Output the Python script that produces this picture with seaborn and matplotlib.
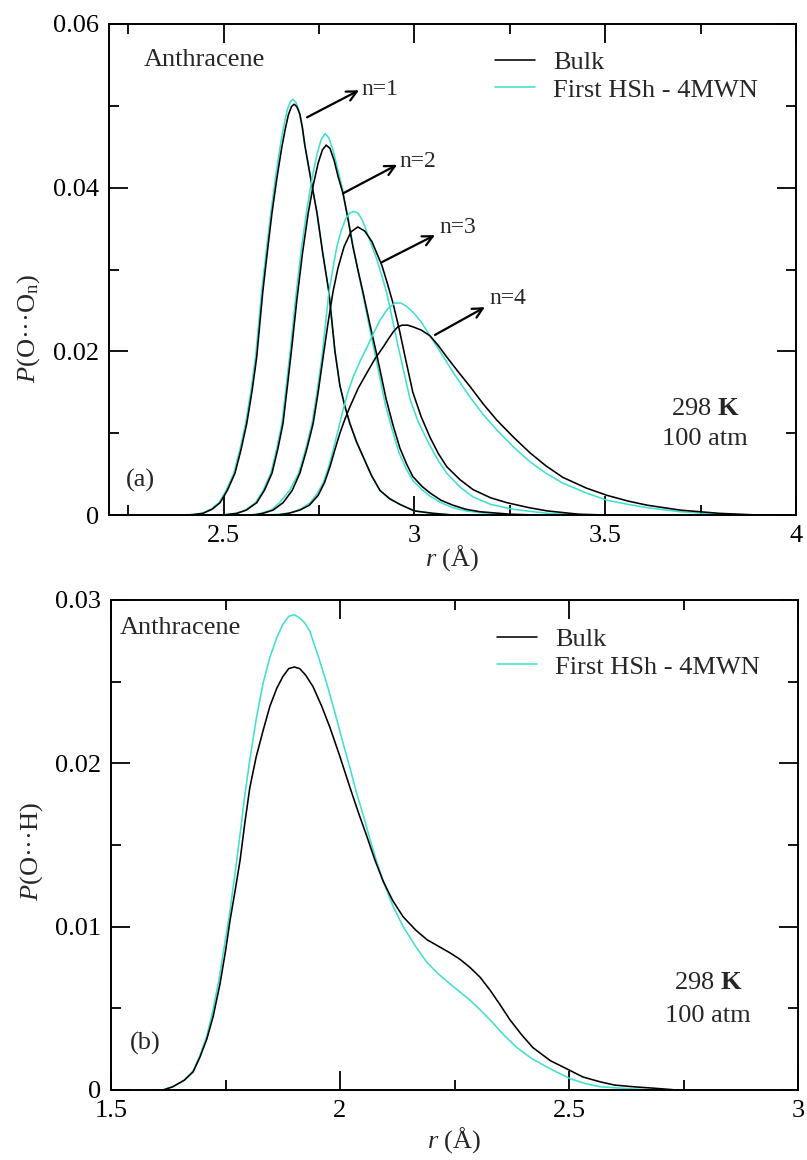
import matplotlib
matplotlib.use("Agg")
import matplotlib.pyplot as plt
import seaborn as sns
import pandas as pd
from matplotlib.lines import Line2D

# ---------------- data: panel (a) P(O...On) ----------------
r_a1_bulk = [2.40, 2.42, 2.446, 2.470, 2.491, 2.510, 2.530, 2.546, 2.561, 2.575, 2.587, 2.603, 2.615, 2.627, 2.640,
             2.653, 2.662, 2.670, 2.678, 2.685, 2.692, 2.700, 2.707, 2.713, 2.729, 2.745, 2.760, 2.776, 2.792,
             2.805, 2.818, 2.831, 2.848, 2.866, 2.888, 2.910, 2.935, 2.962, 3.00, 3.05, 3.10]
p_a1_bulk = [0, 0.00005, 0.0002, 0.0007, 0.0015, 0.0030, 0.0051, 0.0080, 0.0112, 0.0152, 0.0193, 0.0273, 0.0322,
             0.0369, 0.0412, 0.0450, 0.0472, 0.0489, 0.0499, 0.0502, 0.0499, 0.0490, 0.0473, 0.0452, 0.0410, 0.0369,
             0.0320, 0.0273, 0.0200, 0.0158, 0.0133, 0.0112, 0.0090, 0.0071, 0.0048, 0.0030, 0.0020, 0.0013, 0.0005,
             0.0002, 0.0]
r_a1_hsh = [2.40, 2.42, 2.443, 2.467, 2.488, 2.507, 2.527, 2.543, 2.558, 2.572, 2.584, 2.600, 2.612, 2.624, 2.637,
            2.650, 2.659, 2.667, 2.675, 2.682, 2.690, 2.698, 2.705, 2.712, 2.729, 2.745, 2.760, 2.776, 2.792,
            2.805, 2.818, 2.831, 2.848, 2.866, 2.888, 2.910, 2.935, 2.962, 3.00, 3.05, 3.10]
p_a1_hsh = [0, 0.00005, 0.0002, 0.0007, 0.0015, 0.0030, 0.0051, 0.0080, 0.0112, 0.0152, 0.0193, 0.0273, 0.0322,
            0.0369, 0.0415, 0.0455, 0.0478, 0.0495, 0.0505, 0.0508, 0.0504, 0.0494, 0.0476, 0.0455, 0.0410, 0.0369,
            0.0320, 0.0273, 0.0200, 0.0158, 0.0133, 0.0112, 0.0090, 0.0071, 0.0048, 0.0030, 0.0020, 0.0013, 0.0005,
            0.0002, 0.0]

r_a2_bulk = [2.50, 2.535, 2.560, 2.587, 2.607, 2.627, 2.642, 2.656, 2.668, 2.679, 2.692, 2.707, 2.722, 2.736, 2.748,
             2.759, 2.769, 2.779, 2.790, 2.800, 2.813, 2.826, 2.839, 2.852, 2.866, 2.884, 2.902, 2.926, 2.944, 2.962,
             2.980, 2.996, 3.020, 3.041, 3.070, 3.101, 3.135, 3.172, 3.25, 3.32]
p_a2_bulk = [0, 0.0002, 0.0006, 0.0015, 0.0030, 0.0051, 0.0080, 0.0112, 0.0160, 0.0205, 0.0262, 0.0320, 0.0369,
             0.0405, 0.0430, 0.0446, 0.0452, 0.0448, 0.0433, 0.0414, 0.0393, 0.0362, 0.0328, 0.0300, 0.0271, 0.0232,
             0.0195, 0.0142, 0.0110, 0.0082, 0.0062, 0.0047, 0.0035, 0.0027, 0.0018, 0.0012, 0.0007, 0.0004, 0.0001, 0.0]
r_a2_hsh = [2.50, 2.532, 2.557, 2.584, 2.604, 2.624, 2.639, 2.653, 2.665, 2.676, 2.689, 2.704, 2.719, 2.733, 2.745,
            2.756, 2.766, 2.776, 2.787, 2.798, 2.812, 2.826, 2.839, 2.852, 2.866, 2.883, 2.900, 2.924, 2.942, 2.960,
            2.978, 2.996, 3.020, 3.041, 3.070, 3.101, 3.135, 3.172, 3.25]
p_a2_hsh = [0, 0.0002, 0.0006, 0.0015, 0.0030, 0.0051, 0.0080, 0.0112, 0.0160, 0.0205, 0.0265, 0.0325, 0.0375,
            0.0414, 0.0441, 0.0459, 0.0466, 0.0461, 0.0446, 0.0425, 0.0398, 0.0364, 0.0330, 0.0299, 0.0268, 0.0228,
            0.0190, 0.0135, 0.0104, 0.0076, 0.0057, 0.0042, 0.0031, 0.0023, 0.0015, 0.0009, 0.0005, 0.0003, 0.0]

r_a3_bulk = [2.58, 2.603, 2.630, 2.656, 2.680, 2.700, 2.718, 2.735, 2.748, 2.761, 2.774, 2.787, 2.800, 2.816, 2.834,
             2.852, 2.870, 2.889, 2.915, 2.930, 2.944, 2.960, 2.975, 2.996, 3.018, 3.041, 3.063, 3.085, 3.12, 3.154,
             3.20, 3.243, 3.30, 3.348, 3.43, 3.50]
p_a3_bulk = [0, 0.0002, 0.0006, 0.0015, 0.0030, 0.0051, 0.0080, 0.0112, 0.0150, 0.0193, 0.0235, 0.0273, 0.0302,
             0.0328, 0.0346, 0.0352, 0.0347, 0.0334, 0.0305, 0.0282, 0.0259, 0.0228, 0.0195, 0.0150, 0.0120, 0.0095,
             0.0075, 0.0059, 0.0043, 0.0031, 0.0021, 0.0015, 0.0009, 0.0005, 0.0001, 0.0]
r_a3_hsh = [2.57, 2.597, 2.625, 2.647, 2.673, 2.697, 2.715, 2.732, 2.745, 2.758, 2.767, 2.776, 2.787, 2.797, 2.808,
            2.820, 2.831, 2.842, 2.852, 2.862, 2.871, 2.880, 2.902, 2.915, 2.928, 2.943, 2.958, 2.974, 2.989, 3.010,
            3.033, 3.058, 3.085, 3.12, 3.154, 3.20, 3.258, 3.35, 3.45]
p_a3_hsh = [0, 0.0002, 0.0006, 0.0015, 0.0030, 0.0051, 0.0080, 0.0112, 0.0150, 0.0193, 0.0232, 0.0271, 0.0302,
            0.0328, 0.0347, 0.0362, 0.0369, 0.0371, 0.0369, 0.0362, 0.0352, 0.0340, 0.0312, 0.0292, 0.0271, 0.0238,
            0.0205, 0.0172, 0.0141, 0.0114, 0.0092, 0.0070, 0.0051, 0.0034, 0.0022, 0.0013, 0.0007, 0.0002, 0.0]

r_a4_bulk = [2.64, 2.67, 2.700, 2.725, 2.748, 2.765, 2.779, 2.792, 2.805, 2.818, 2.831, 2.853, 2.876, 2.897, 2.918,
             2.932, 2.945, 2.957, 2.968, 2.982, 2.996, 3.018, 3.041, 3.063, 3.085, 3.115, 3.146, 3.18, 3.216, 3.26,
             3.303, 3.345, 3.389, 3.45, 3.505, 3.56, 3.610, 3.696, 3.80, 3.90, 3.97]
p_a4_bulk = [0, 0.0002, 0.0006, 0.0012, 0.0024, 0.0040, 0.0059, 0.0080, 0.0100, 0.0117, 0.0132, 0.0155, 0.0174,
             0.0191, 0.0205, 0.0215, 0.0224, 0.0230, 0.0232, 0.0232, 0.0230, 0.0226, 0.0219, 0.0207, 0.0193, 0.0175,
             0.0157, 0.0136, 0.0116, 0.0095, 0.0076, 0.0060, 0.0046, 0.0033, 0.0024, 0.0017, 0.0012, 0.0006, 0.0002,
             0.0, 0.0]
r_a4_hsh = [2.60, 2.65, 2.680, 2.705, 2.727, 2.745, 2.761, 2.775, 2.787, 2.800, 2.813, 2.826, 2.840, 2.858, 2.876,
            2.893, 2.910, 2.930, 2.949, 2.965, 2.980, 2.996, 3.018, 3.041, 3.067, 3.105, 3.146, 3.18, 3.216, 3.26,
            3.303, 3.345, 3.389, 3.45, 3.505, 3.56, 3.610, 3.696, 3.80, 3.88]
p_a4_hsh = [0, 0.0001, 0.0003, 0.0008, 0.0015, 0.0026, 0.0039, 0.0058, 0.0079, 0.0103, 0.0128, 0.0150, 0.0169,
            0.0188, 0.0205, 0.0222, 0.0238, 0.0252, 0.0259, 0.0259, 0.0255, 0.0248, 0.0236, 0.0219, 0.0200, 0.0172,
            0.0144, 0.0123, 0.0104, 0.0083, 0.0065, 0.0051, 0.0039, 0.0027, 0.0018, 0.0013, 0.0009, 0.0004, 0.0001, 0.0]

# ---------------- data: panel (b) P(O...H) ----------------
r_b_bulk = [1.600, 1.614, 1.635, 1.660, 1.679, 1.694, 1.709, 1.723, 1.738, 1.750, 1.760, 1.771, 1.782, 1.792, 1.803,
            1.817, 1.832, 1.847, 1.862, 1.875, 1.888, 1.900, 1.912, 1.925, 1.941, 1.960, 1.978, 2.000, 2.022, 2.040,
            2.059, 2.076, 2.094, 2.115, 2.138, 2.165, 2.190, 2.215, 2.240, 2.262, 2.284, 2.306, 2.328, 2.350, 2.371,
            2.396, 2.421, 2.440, 2.459, 2.502, 2.530, 2.568, 2.600, 2.640, 2.690, 2.736]
p_b_bulk = [0, 0, 0.0002, 0.0006, 0.0011, 0.0020, 0.0031, 0.0045, 0.0065, 0.0085, 0.0104, 0.0122, 0.0141, 0.0163,
            0.0185, 0.0204, 0.0220, 0.0235, 0.0246, 0.0253, 0.0258, 0.0259, 0.0258, 0.0254, 0.0247, 0.0235, 0.0222,
            0.0204, 0.0185, 0.0170, 0.0155, 0.0141, 0.0128, 0.0116, 0.0106, 0.0098, 0.0092, 0.0088, 0.0084, 0.0080,
            0.0075, 0.0069, 0.0061, 0.0052, 0.0043, 0.0034, 0.0026, 0.0022, 0.0018, 0.0012, 0.0008, 0.0005, 0.0003,
            0.0002, 0.0001, 0.0]
r_b_hsh = [1.600, 1.612, 1.635, 1.660, 1.680, 1.694, 1.709, 1.722, 1.736, 1.748, 1.760, 1.771, 1.782, 1.792, 1.803,
           1.817, 1.832, 1.847, 1.862, 1.875, 1.888, 1.900, 1.912, 1.923, 1.934, 1.952, 1.971, 1.989, 2.007, 2.022,
           2.036, 2.051, 2.066, 2.080, 2.094, 2.115, 2.138, 2.165, 2.190, 2.215, 2.240, 2.262, 2.284, 2.310, 2.334,
           2.360, 2.386, 2.420, 2.459, 2.502, 2.535, 2.568, 2.620, 2.683]
p_b_hsh = [0, 0, 0.0002, 0.0006, 0.0012, 0.0021, 0.0033, 0.0048, 0.0068, 0.0089, 0.0110, 0.0133, 0.0157, 0.0180,
           0.0202, 0.0227, 0.0249, 0.0265, 0.0277, 0.0285, 0.0290, 0.0291, 0.0289, 0.0286, 0.0281, 0.0266, 0.0249,
           0.0231, 0.0212, 0.0197, 0.0182, 0.0168, 0.0153, 0.0140, 0.0128, 0.0113, 0.0100, 0.0088, 0.0078, 0.0071,
           0.0065, 0.0060, 0.0055, 0.0048, 0.0041, 0.0033, 0.0026, 0.0019, 0.0013, 0.0007, 0.0004, 0.0002, 0.0001, 0.0]

series_names = ["Bulk", "First HSh - 4MWN"]

# ticks
xticks_a = [2.5, 3.0, 3.5, 4.0]
xticklabels_a = ["2.5", "3", "3.5", "4"]
xminor_a = [2.25, 2.75, 3.25, 3.75]
yticks_a = [0, 0.02, 0.04, 0.06]
yticklabels_a = ["0", "0.02", "0.04", "0.06"]
yminor_a = [0.01, 0.03, 0.05]

xticks_b = [1.5, 2.0, 2.5, 3.0]
xticklabels_b = ["1.5", "2", "2.5", "3"]
xminor_b = [1.75, 2.25, 2.75]
yticks_b = [0, 0.01, 0.02, 0.03]
yticklabels_b = ["0", "0.01", "0.02", "0.03"]
yminor_b = [0.005, 0.015, 0.025]

# ---------------- style ----------------
sns.set_style("ticks")
plt.rcParams['font.family'] = ['Liberation Serif', 'DejaVu Serif']
plt.rcParams['mathtext.fontset'] = 'custom'
plt.rcParams['mathtext.rm'] = 'Liberation Serif'
plt.rcParams['mathtext.it'] = 'Liberation Serif:italic'
plt.rcParams['mathtext.bf'] = 'Liberation Serif:bold'
plt.rcParams['lines.solid_joinstyle'] = 'round'

FS = 19
BLACK = "#000000"
CYAN = "#40E0D0"
LW = 1.15

fig = plt.figure(figsize=(8.07, 11.6), dpi=100)
ax_a = fig.add_axes([109 / 807, 1 - 515 / 1160, 687 / 807, 491 / 1160])
ax_b = fig.add_axes([111 / 807, 1 - 1090 / 1160, 687 / 807, 490 / 1160])


def draw(ax, r, p, color):
    df = pd.DataFrame({"r": r, "P": p})
    sns.lineplot(data=df, x="r", y="P", ax=ax, color=color, lw=LW, estimator=None, sort=False)


for rb, pb, rh, ph in [(r_a1_bulk, p_a1_bulk, r_a1_hsh, p_a1_hsh),
                       (r_a2_bulk, p_a2_bulk, r_a2_hsh, p_a2_hsh),
                       (r_a3_bulk, p_a3_bulk, r_a3_hsh, p_a3_hsh),
                       (r_a4_bulk, p_a4_bulk, r_a4_hsh, p_a4_hsh)]:
    draw(ax_a, rh, ph, CYAN)
    draw(ax_a, rb, pb, BLACK)

draw(ax_b, r_b_hsh, p_b_hsh, CYAN)
draw(ax_b, r_b_bulk, p_b_bulk, BLACK)


def style_axes(ax, xlim, ylim, xt, xtl, xm, yt, ytl, ym):
    ax.set_xlim(*xlim)
    ax.set_ylim(*ylim)
    ax.set_xticks(xt)
    ax.set_xticklabels(xtl)
    ax.set_xticks(xm, minor=True)
    ax.set_yticks(yt)
    ax.set_yticklabels(ytl)
    ax.set_yticks(ym, minor=True)
    ax.tick_params(which='both', direction='in', top=True, right=True, width=1.3, colors='black',
                   labelsize=FS)
    ax.tick_params(which='major', length=14)
    ax.tick_params(which='minor', length=7)
    ax.tick_params(axis='x', which='major', pad=7)
    ax.tick_params(axis='y', which='major', pad=7)
    for s in ax.spines.values():
        s.set_linewidth(1.4)
        s.set_color('black')
    ax.set_xlabel(r"$\mathit{r}$ (Å)", fontsize=FS)


style_axes(ax_a, (2.2, 4.0), (0, 0.06), xticks_a, xticklabels_a, xminor_a, yticks_a, yticklabels_a, yminor_a)
style_axes(ax_b, (1.5, 3.0), (0, 0.03), xticks_b, xticklabels_b, xminor_b, yticks_b, yticklabels_b, yminor_b)

ax_a.set_ylabel(r"$\mathit{P}$(O···O$_\mathrm{n}$)", fontsize=FS)
ax_b.set_ylabel(r"$\mathit{P}$(O···H)", fontsize=FS)
ax_a.yaxis.set_label_coords(-0.0975, 0.381)
ax_b.yaxis.set_label_coords(-0.096, 0.486)
ax_a.xaxis.set_label_coords(0.5, -0.057)
ax_b.xaxis.set_label_coords(0.5, -0.071)

# legends
for ax, anchor in [(ax_a, (0.562, 0.946)), (ax_b, (0.562, 0.944))]:
    handles = [Line2D([], [], color=BLACK, lw=LW), Line2D([], [], color=CYAN, lw=LW)]
    ax.legend(handles, series_names, loc='upper left', bbox_to_anchor=anchor, frameon=False,
              fontsize=FS, handlelength=1.5, handletextpad=0.7, labelspacing=0.16,
              borderpad=0, borderaxespad=0)

# annotations panel a
ax_a.text(0.051, 0.927, "Anthracene", transform=ax_a.transAxes, fontsize=FS, ha='left', va='center')
ax_a.text(0.025, 0.071, "(a)", transform=ax_a.transAxes, fontsize=FS, ha='left', va='center')
ax_a.text(0.868, 0.216, r"298 $\mathbf{K}$", transform=ax_a.transAxes, fontsize=FS, ha='center', va='center')
ax_a.text(0.868, 0.155, "100 atm", transform=ax_a.transAxes, fontsize=FS, ha='center', va='center')

arrows = [((2.719, 0.0486), (2.855, 0.0519), (2.862, 0.0513), "n=1"),
          ((2.813, 0.0393), (2.955, 0.0428), (2.962, 0.0425), "n=2"),
          ((2.915, 0.0309), (3.054, 0.0342), (3.067, 0.0345), "n=3"),
          ((3.054, 0.0220), (3.185, 0.0254), (3.198, 0.0258), "n=4")]
for tail, head, tpos, lab in arrows:
    ax_a.annotate("", xy=head, xytext=tail,
                  arrowprops=dict(arrowstyle='->', color='black', lw=1.6, mutation_scale=18,
                                  shrinkA=0, shrinkB=0))
    ax_a.text(tpos[0], tpos[1], lab, fontsize=17, ha='left', va='baseline')

# annotations panel b
ax_b.text(0.013, 0.943, "Anthracene", transform=ax_b.transAxes, fontsize=FS, ha='left', va='center')
ax_b.text(0.028, 0.096, "(b)", transform=ax_b.transAxes, fontsize=FS, ha='left', va='center')
ax_b.text(0.869, 0.219, r"298 $\mathbf{K}$", transform=ax_b.transAxes, fontsize=FS, ha='center', va='center')
ax_b.text(0.869, 0.152, "100 atm", transform=ax_b.transAxes, fontsize=FS, ha='center', va='center')

fig.savefig("out.png", dpi=100)
